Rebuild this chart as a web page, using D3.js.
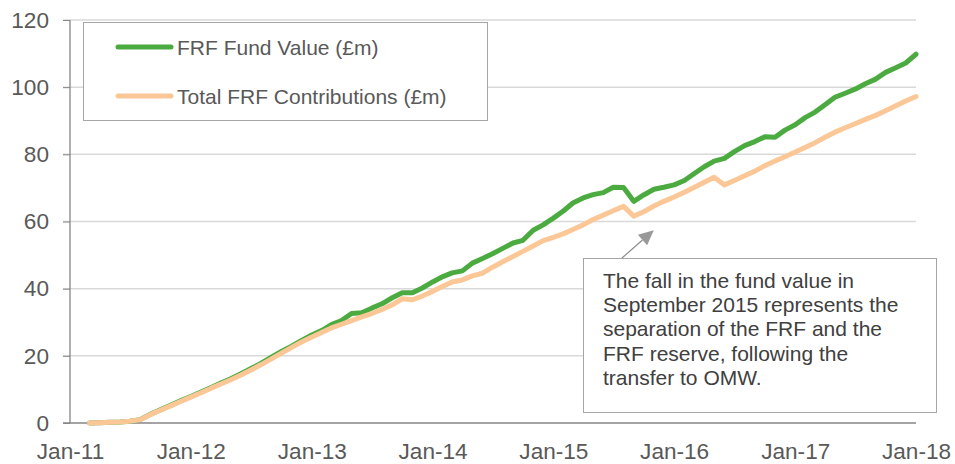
<!DOCTYPE html>
<html><head><meta charset="utf-8">
<script src="https://cdn.jsdelivr.net/npm/d3@7"></script>
<style>
body{margin:0;background:#fff;}
svg text{font-family:"Liberation Sans",Arial,sans-serif;}
</style></head>
<body><svg id="chart" width="955" height="464"></svg>
<script>
const months = ["2011-03","2011-04","2011-05","2011-06","2011-07","2011-08","2011-09","2011-10","2011-11","2011-12",
"2012-01","2012-02","2012-03","2012-04","2012-05","2012-06","2012-07","2012-08","2012-09","2012-10","2012-11","2012-12",
"2013-01","2013-02","2013-03","2013-04","2013-05","2013-06","2013-07","2013-08","2013-09","2013-10","2013-11","2013-12",
"2014-01","2014-02","2014-03","2014-04","2014-05","2014-06","2014-07","2014-08","2014-09","2014-10","2014-11","2014-12",
"2015-01","2015-02","2015-03","2015-04","2015-05","2015-06","2015-07","2015-08","2015-09","2015-10","2015-11","2015-12",
"2016-01","2016-02","2016-03","2016-04","2016-05","2016-06","2016-07","2016-08","2016-09","2016-10","2016-11","2016-12",
"2017-01","2017-02","2017-03","2017-04","2017-05","2017-06","2017-07","2017-08","2017-09","2017-10","2017-11","2017-12",
"2018-01"];
const fundValue = [0,0.1,0.2,0.3,0.5,1.0,2.6,3.9,5.3,6.6,
7.9,9.2,10.5,11.9,13.2,14.7,16.2,17.8,19.6,21.3,22.9,24.6,
26.2,27.6,29.3,30.5,32.6,32.8,34.2,35.5,37.3,38.8,38.8,40.2,
42.0,43.6,44.7,45.3,47.6,49.0,50.4,52.0,53.6,54.4,57.4,59.0,
61.0,63.2,65.5,67.0,68.0,68.6,70.2,70.1,66.0,67.9,69.6,70.2,
70.9,72.2,74.2,76.3,78.0,78.8,80.8,82.6,83.8,85.2,85.1,87.2,
88.8,91.0,92.5,94.8,97.0,98.2,99.4,101.0,102.4,104.4,105.8,107.2,
109.8];
const contributions = [0,0.1,0.2,0.3,0.5,1.0,2.5,3.8,5.1,6.4,
7.7,9.0,10.3,11.6,12.9,14.3,15.8,17.4,19.1,20.8,22.5,24.1,
25.6,27.0,28.3,29.4,30.5,31.6,32.6,33.8,35.2,37.0,36.7,37.8,
39.2,40.7,42.0,42.6,43.8,44.6,46.4,48.0,49.6,51.1,52.7,54.3,
55.3,56.4,57.6,59.0,60.6,61.9,63.2,64.5,61.6,62.9,64.6,66.0,
67.3,68.7,70.1,71.7,73.2,70.9,72.2,73.6,75.0,76.6,78.0,79.3,
80.7,82.1,83.4,85.1,86.6,87.9,89.1,90.4,91.6,93.0,94.5,95.9,
97.2];
const seriesNames = ["FRF Fund Value (£m)","Total FRF Contributions (£m)"];
const yTicks = [0,20,40,60,80,100,120];
const xTickLabels = ["2011-01","2012-01","2013-01","2014-01","2015-01","2016-01","2017-01","2018-01"];
const annotationLines = ["The fall in the fund value in","September 2015 represents the","separation of the FRF and the","FRF reserve, following the","transfer to OMW."];
const annotationDate = "2015-09";

const parse = d3.timeParse("%Y-%m");
const svg = d3.select("#chart");
const x = d3.scaleTime().domain([parse("2011-01"), parse("2018-01")]).range([70, 916]);
const y = d3.scaleLinear().domain([0,120]).range([423, 20]);
const colors = ["#4cab40","#fbc797"];

// gridlines
svg.append("g").selectAll("line").data(yTicks.filter(d=>d>0)).join("line")
  .attr("x1",63).attr("x2",916).attr("y1",d=>y(d)).attr("y2",d=>y(d))
  .attr("stroke","#d9d9d9").attr("stroke-width",1.5);

// y axis
const yAxis = d3.axisLeft(y).tickValues(yTicks).tickSize(7).tickFormat(d3.format("d"));
const gy = svg.append("g").attr("transform","translate(70,0)").call(yAxis);
gy.select(".domain").attr("stroke","#868686").attr("stroke-width",1.3).attr("d","M0,20V423");
gy.selectAll(".tick line").attr("stroke","#868686");
gy.selectAll(".tick text").attr("font-size",22.6).attr("fill","#595959").attr("x",-21).attr("font-family","Liberation Sans, Arial, sans-serif");

// x axis
const xAxis = d3.axisBottom(x).tickValues(xTickLabels.map(parse)).tickSize(0).tickFormat(d3.timeFormat("%b-%y"));
const gx = svg.append("g").attr("transform","translate(0,423)").call(xAxis);
gx.select(".domain").attr("stroke","#868686").attr("stroke-width",1.3).attr("d","M63,0H916");
gx.selectAll(".tick text").attr("font-size",22.6).attr("fill","#595959").attr("y",19.5).attr("font-family","Liberation Sans, Arial, sans-serif");

// lines
const dates = months.map(parse);
const line = d3.line().x((d,i)=>x(dates[i])).y(d=>y(d));
[fundValue, contributions].forEach((s,i)=>{
  svg.append("path").datum(s).attr("d",line).attr("fill","none")
    .attr("stroke",colors[i]).attr("stroke-width",5)
    .attr("stroke-linejoin","round").attr("stroke-linecap","round");
});

// legend
const lg = svg.append("g");
lg.append("rect").attr("x",83.5).attr("y",22.5).attr("width",404).attr("height",98)
  .attr("fill","#fff").attr("stroke","#a6a6a6").attr("stroke-width",1);
seriesNames.forEach((n,i)=>{
  const yy = 47 + i*49;
  lg.append("line").attr("x1",118).attr("x2",171).attr("y1",yy).attr("y2",yy)
    .attr("stroke",colors[i]).attr("stroke-width",5).attr("stroke-linecap","round");
  lg.append("text").attr("x",177).attr("y",yy+7.5).attr("font-size",21).attr("fill","#595959").text(n);
});

// annotation
const ad = parse(annotationDate);
const ag = svg.append("g");
const tipX = x(ad)+20, tipY = y(61.6)+14;
const startX = 622, startY = 258;
const ang = Math.atan2(tipY-startY, tipX-startX);
const hl = 15, hw = 7;
const bx = tipX - hl*Math.cos(ang), by = tipY - hl*Math.sin(ang);
ag.append("line").attr("x1",startX).attr("y1",startY).attr("x2",bx).attr("y2",by)
  .attr("stroke","#8c8c8c").attr("stroke-width",1.2);
ag.append("path").attr("d",`M${tipX},${tipY}L${bx+hw*Math.sin(ang)},${by-hw*Math.cos(ang)}L${bx-hw*Math.sin(ang)},${by+hw*Math.cos(ang)}Z`)
  .attr("fill","#999");
ag.append("rect").attr("x",583.5).attr("y",258.5).attr("width",353).attr("height",154)
  .attr("fill","#fff").attr("stroke","#a6a6a6").attr("stroke-width",1);
annotationLines.forEach((t,i)=>{
  ag.append("text").attr("x",603).attr("y",288+i*24.2).attr("font-size",21).attr("fill","#404040").text(t);
});
</script></body></html>
